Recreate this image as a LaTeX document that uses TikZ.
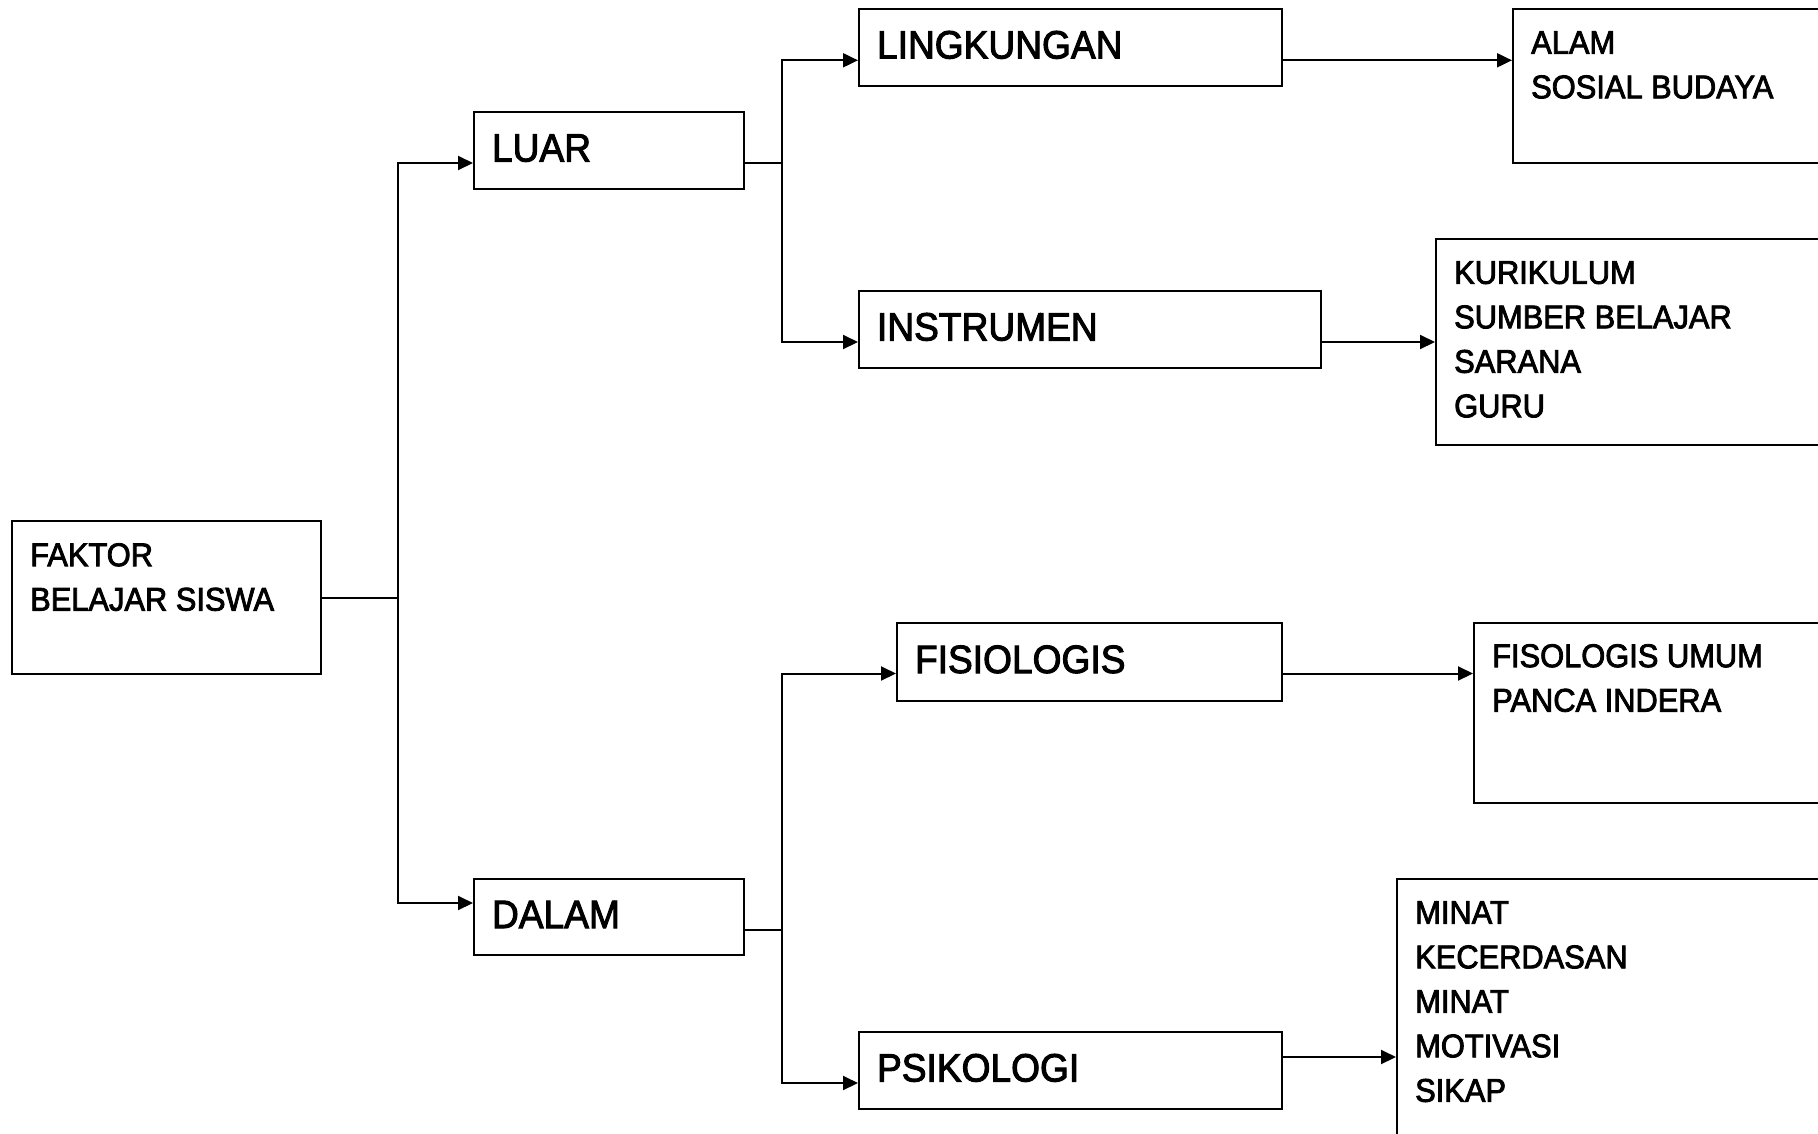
\documentclass[tikz,border=0pt]{standalone}
\usepackage{fontspec}
\setmainfont[FakeStretch=0.94,FakeBold=2.5]{Liberation Sans}
\usetikzlibrary{arrows.meta,calc}
\tikzset{box/.style={draw,line width=2pt,anchor=north west,inner sep=0pt},
         namebox/.style={box,inner xsep=18pt,align=left,text height=28pt,text depth=6pt,
                         font=\fontsize{39.5}{47}\selectfont},
         listtxt/.style={anchor=north west,inner sep=0pt,align=left,
                         font=\fontsize{32.8}{44.5}\selectfont},
         link/.style={line width=2pt},
         arr/.style={link,-{Triangle[length=15pt,width=14pt]}}}

\begin{document}
\begin{tikzpicture}[x=1pt,y=-1pt]
        \useasboundingbox (0,0) rectangle (1818,1133);
        \clip (0,0) rectangle (1818,1133);
        %
        % first level
        \node[box,minimum width=309pt,minimum height=153pt] (faktor) at (11,520) {};
        \node[listtxt] (faktortxt) at ($(faktor.north west)+(19,23)$) {FAKTOR\\BELAJAR SISWA};
        \node[namebox,minimum width=270pt,minimum height=77pt,text width=234pt] (luar) at (473,111) {LUAR};
        \node[namebox,minimum width=270pt,minimum height=76pt,text width=234pt] (dalam) at (473,878) {DALAM};
        % second level
        \node[namebox,minimum width=423pt,minimum height=77pt,text width=387pt] (lingkungan) at (858,8) {LINGKUNGAN};
        \node[namebox,minimum width=462pt,minimum height=77pt,text width=426pt] (instrumen) at (858,290) {INSTRUMEN};
        \node[namebox,minimum width=385pt,minimum height=78pt,text width=349pt] (fisiologis) at (896,622) {FISIOLOGIS};
        \node[namebox,minimum width=423pt,minimum height=77pt,text width=387pt] (psikologi) at (858,1031) {PSIKOLOGI};
        % lists, cut by the right edge
        \node[box,minimum width=400pt,minimum height=154pt] (alam) at (1512,8) {};
        \node[listtxt] (alamtxt) at ($(alam.north west)+(19,23)$) {ALAM\\SOSIAL BUDAYA};
        \node[box,minimum width=450pt,minimum height=206pt] (kurikulum) at (1435,238) {};
        \node[listtxt] (kurikulumtxt) at ($(kurikulum.north west)+(19,23)$) {KURIKULUM\\SUMBER BELAJAR\\SARANA\\GURU};
        \node[box,minimum width=400pt,minimum height=180pt] (umum) at (1473,622) {};
        \node[listtxt] (umumtxt) at ($(umum.north west)+(19,22)$) {FISOLOGIS UMUM\\PANCA INDERA};
        \node[box,minimum width=500pt,minimum height=300pt] (minat) at (1396,878) {};
        \node[listtxt] (minattxt) at ($(minat.north west)+(19,23)$) {MINAT\\KECERDASAN\\MINAT\\MOTIVASI\\SIKAP};
        %
        \draw[link] (faktor.east) -- ++(76,0) coordinate (trunk);
        \draw[arr] (trunk) |- ([yshift=-12.5pt]luar.west);
        \draw[arr] (trunk) |- ([yshift=14pt]dalam.west);
        \draw[link] ([yshift=-12.5pt]luar.east) -- ++(37,0) coordinate (fork1);
        \draw[arr] (fork1) |- ([yshift=-12.8pt]lingkungan.west);
        \draw[arr] (fork1) |- ([yshift=-12.5pt]instrumen.west);
        \draw[link] ([yshift=-13pt]dalam.east) -- ++(37,0) coordinate (fork2);
        \draw[arr] (fork2) |- ([yshift=-11.5pt]fisiologis.west);
        \draw[arr] (fork2) |- ([yshift=-12.5pt]psikologi.west);
        \foreach \A/\B/\s in {lingkungan/alam/-12.8,instrumen/kurikulum/-12.5,fisiologis/umum/-11.5,psikologi/minat/13.5}
            {\draw[arr] ([yshift=\s pt]\A.east) coordinate (\A-out) -- (\A-out -| \B.west);}
\end{tikzpicture}
\end{document}
